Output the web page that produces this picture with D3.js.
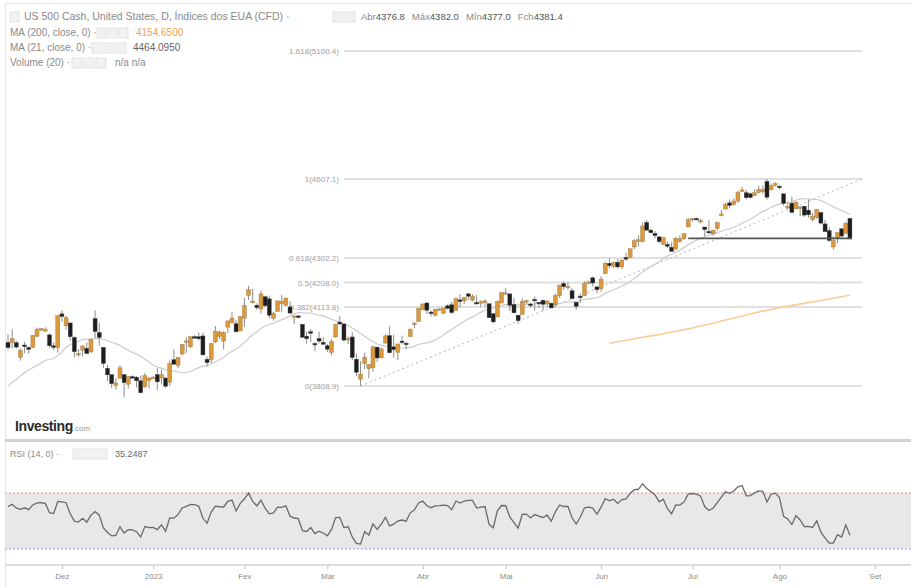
<!DOCTYPE html>
<html><head><meta charset="utf-8">
<script src="https://cdn.jsdelivr.net/npm/d3@7/dist/d3.min.js"></script>
<style>body{margin:0;background:#fff}svg{display:block;font-family:"Liberation Sans",Arial,sans-serif}</style>
</head><body><svg id="c" width="911" height="587"></svg>
<script>
// ---------- DATA ----------
const dates = [
"2022-11-14","2022-11-15","2022-11-16","2022-11-17","2022-11-18","2022-11-21","2022-11-22","2022-11-23","2022-11-24","2022-11-25","2022-11-28","2022-11-29","2022-11-30",
"2022-12-01","2022-12-02","2022-12-05","2022-12-06","2022-12-07","2022-12-08","2022-12-09","2022-12-12","2022-12-13","2022-12-14","2022-12-15","2022-12-16","2022-12-19","2022-12-20","2022-12-21","2022-12-22","2022-12-23","2022-12-26","2022-12-27","2022-12-28","2022-12-29","2022-12-30",
"2023-01-02","2023-01-03","2023-01-04","2023-01-05","2023-01-06","2023-01-09","2023-01-10","2023-01-11","2023-01-12","2023-01-13","2023-01-16","2023-01-17","2023-01-18","2023-01-19","2023-01-20","2023-01-23","2023-01-24","2023-01-25","2023-01-26","2023-01-27","2023-01-30","2023-01-31",
"2023-02-01","2023-02-02","2023-02-03","2023-02-06","2023-02-07","2023-02-08","2023-02-09","2023-02-10","2023-02-13","2023-02-14","2023-02-15","2023-02-16","2023-02-17","2023-02-20","2023-02-21","2023-02-22","2023-02-23","2023-02-24","2023-02-27","2023-02-28",
"2023-03-01","2023-03-02","2023-03-03","2023-03-06","2023-03-07","2023-03-08","2023-03-09","2023-03-10","2023-03-13","2023-03-14","2023-03-15","2023-03-16","2023-03-17","2023-03-20","2023-03-21","2023-03-22","2023-03-23","2023-03-24","2023-03-27","2023-03-28","2023-03-29","2023-03-30","2023-03-31",
"2023-04-03","2023-04-04","2023-04-05","2023-04-06","2023-04-07","2023-04-10","2023-04-11","2023-04-12","2023-04-13","2023-04-14","2023-04-17","2023-04-18","2023-04-19","2023-04-20","2023-04-21","2023-04-24","2023-04-25","2023-04-26","2023-04-27","2023-04-28",
"2023-05-01","2023-05-02","2023-05-03","2023-05-04","2023-05-05","2023-05-08","2023-05-09","2023-05-10","2023-05-11","2023-05-12","2023-05-15","2023-05-16","2023-05-17","2023-05-18","2023-05-19","2023-05-22","2023-05-23","2023-05-24","2023-05-25","2023-05-26","2023-05-29","2023-05-30","2023-05-31",
"2023-06-01","2023-06-02","2023-06-05","2023-06-06","2023-06-07","2023-06-08","2023-06-09","2023-06-12","2023-06-13","2023-06-14","2023-06-15","2023-06-16","2023-06-19","2023-06-20","2023-06-21","2023-06-22","2023-06-23","2023-06-26","2023-06-27","2023-06-28","2023-06-29","2023-06-30",
"2023-07-03","2023-07-04","2023-07-05","2023-07-06","2023-07-07","2023-07-10","2023-07-11","2023-07-12","2023-07-13","2023-07-14","2023-07-17","2023-07-18","2023-07-19","2023-07-20","2023-07-21","2023-07-24","2023-07-25","2023-07-26","2023-07-27","2023-07-28","2023-07-31",
"2023-08-01","2023-08-02","2023-08-03","2023-08-04","2023-08-07","2023-08-08","2023-08-09","2023-08-10","2023-08-11","2023-08-14","2023-08-15","2023-08-16","2023-08-17","2023-08-18","2023-08-21","2023-08-22","2023-08-23","2023-08-24"];
const futureDates = ["2023-08-25","2023-08-28","2023-08-29","2023-08-30","2023-08-31","2023-09-01","2023-09-04","2023-09-05","2023-09-06","2023-09-07","2023-09-08","2023-09-11","2023-09-12","2023-09-13"];

const opens = [
3977,3977,3976,3919,3967,3957,3958,4000,4028,4024,4006,3964,3957,
4087,4041,4052,3996,3934,3947,3954,3940,4069,4015,3958,3877,3853,3811,3839,3853,3816,3845,3843,3829,3806,3830,
3840,3853,3840,3840,3823,3910,3888,3932,3977,3960,3999,3999,4002,3912,3910,3979,4001,3982,4036,4053,4049,4021,
4070,4158,4136,4120,4106,4153,4145,4070,4096,4126,4120,4114,4077,4079,4047,4001,4018,3973,3992,3977,
3964,3938,3998,4055,4048,3987,3998,3912,3835,3895,3876,3879,3959,3917,3975,4003,3960,3939,3982,3974,3999,4046,4057,
4103,4129,4094,4082,4105,4090,4118,4122,4100,4141,4137,4164,4140,4131,4133,4133,4126,4088,4075,4129,
4166,4164,4123,4082,4084,4137,4125,4143,4132,4139,4127,4128,4122,4157,4204,4190,4176,4132,4155,4157,4205,4226,4191,
4184,4242,4282,4271,4286,4268,4304,4305,4345,4366,4366,4440,4410,4397,4384,4355,4355,4344,4337,4367,4377,4422,
4450,4455,4442,4422,4405,4395,4416,4468,4491,4515,4509,4522,4563,4554,4550,4543,4555,4558,4598,4565,4585,
4579,4550,4495,4514,4492,4498,4502,4487,4450,4458,4478,4434,4408,4345,4380,4415,4397,4455];
const highs = [
4008,4028,3983,3954,3979,3962,4005,4034,4033,4035,4012,3976,4080,
4101,4080,4052,4001,3951,3966,3977,3990,4100,4053,3958,3890,3854,3839,3889,3853,3846,3850,3847,3849,3859,3840,
3848,3878,3873,3840,3906,3950,3920,3970,3997,4003,4005,4015,4015,3923,3973,4040,4023,4020,4061,4095,4064,4078,
4148,4195,4183,4128,4176,4157,4157,4095,4139,4160,4148,4136,4081,4083,4047,4018,4028,3978,4018,3998,
3971,3990,4048,4079,4051,4000,4018,3934,3905,3938,3894,3965,3959,3956,4009,4039,4007,3972,4003,3979,4031,4057,4110,
4128,4133,4100,4108,4110,4110,4124,4134,4150,4163,4152,4169,4163,4160,4139,4142,4126,4089,4138,4170,
4186,4165,4148,4083,4147,4142,4131,4154,4132,4143,4141,4130,4165,4199,4213,4210,4186,4132,4166,4213,4215,4231,4195,
4232,4290,4300,4289,4299,4298,4322,4339,4375,4391,4439,4448,4415,4407,4387,4382,4366,4363,4384,4390,4398,4458,
4456,4458,4454,4422,4448,4412,4443,4488,4517,4528,4532,4563,4578,4565,4555,4567,4580,4582,4607,4590,4595,
4585,4551,4520,4540,4520,4503,4503,4528,4476,4490,4479,4449,4421,4386,4401,4418,4443,4458];
const lows = [
3949,3953,3954,3907,3935,3933,3956,3999,4022,4020,3956,3948,3938,
4057,4026,3984,3919,3923,3923,3933,3937,3994,3965,3879,3828,3800,3795,3839,3765,3800,3838,3803,3781,3801,3800,
3835,3794,3815,3802,3809,3890,3877,3928,3937,3955,3993,3984,3925,3885,3897,3974,3990,3950,4013,4049,4015,4021,
4037,4141,4127,4103,4088,4111,4070,4061,4096,4095,4114,4089,4048,4070,3995,3973,3978,3943,3973,3968,
3940,3928,3995,4044,3980,3970,3908,3846,3809,3874,3839,3864,3901,3917,3971,3936,3918,3909,3970,3951,3999,4032,4056,
4101,4086,4077,4077,4100,4085,4104,4086,4100,4113,4124,4140,4135,4123,4113,4115,4072,4050,4075,4128,
4164,4098,4090,4048,4084,4124,4111,4099,4109,4099,4113,4109,4113,4149,4180,4180,4142,4103,4129,4155,4203,4192,4167,
4172,4242,4262,4264,4261,4261,4291,4303,4337,4346,4362,4407,4398,4378,4360,4352,4341,4328,4335,4361,4372,4422,
4442,4450,4436,4385,4398,4389,4408,4463,4490,4494,4504,4515,4557,4528,4532,4542,4552,4548,4528,4564,4578,
4567,4505,4490,4475,4491,4464,4461,4458,4443,4453,4432,4404,4364,4335,4360,4382,4397,4376];
const closes = [
3957,3992,3959,3947,3965,3950,4004,4028,4030,4026,3964,3958,4080,
4077,4072,3999,3941,3934,3963,3934,3990,4019,3996,3896,3852,3818,3821,3879,3822,3845,3843,3829,3783,3849,3840,
3842,3825,3853,3808,3895,3893,3919,3970,3983,3999,3998,3991,3929,3899,3973,4020,4017,4016,4060,4071,4018,4077,
4119,4180,4136,4111,4164,4118,4082,4090,4137,4136,4148,4090,4079,4075,3997,3991,4012,3970,3982,3970,
3951,3981,4046,4048,3986,3992,3919,3862,3855,3920,3892,3960,3917,3952,4002,3937,3949,3971,3978,3971,4028,4051,4109,
4125,4101,4091,4105,4106,4110,4108,4092,4146,4138,4151,4155,4155,4130,4134,4137,4072,4056,4136,4169,
4168,4120,4091,4061,4136,4138,4119,4138,4131,4124,4136,4110,4158,4198,4192,4193,4146,4116,4151,4205,4210,4206,4180,
4221,4282,4273,4284,4268,4294,4299,4338,4369,4373,4426,4410,4400,4389,4366,4382,4348,4328,4378,4377,4396,4450,
4455,4453,4447,4412,4399,4410,4439,4472,4510,4505,4522,4555,4565,4535,4536,4554,4567,4566,4537,4582,4589,
4577,4513,4502,4478,4518,4499,4468,4469,4464,4490,4437,4404,4370,4370,4400,4387,4436,4376];
// closes before the visible window (needed for MA 21 and RSI 14)
const priorCloses = [3678,3791,3783,3745,3640,3612,3589,3577,3670,3583,3677,3720,3695,3666,3753,3797,3859,3831,3808,3901,3872,3856,3760,3720,3771,3807,3828,3749,3956,3993];

// MA 200
const ma200Dates = ["2023-06-05","2023-06-15","2023-06-26","2023-07-05","2023-07-14","2023-07-25","2023-08-03","2023-08-14","2023-08-24"];
const ma200Values = [3974,3997,4016,4040,4067,4094,4117,4136,4159];

// Fibonacci tool
const fibLow = 3808.9, fibHigh = 4607.1;
const fibRatios = [0, 0.382, 0.5, 0.618, 1, 1.618];
const fibRange = ["2023-03-07","2023-08-29"];
const trendDates = ["2023-03-13","2023-08-29"];
const trendPrices = [3808.9, 4607.1];
// horizontal support line
const supportDates = ["2023-06-30","2023-08-24"];
const supportPrice = 4378;

// header texts
const titleText = "US 500 Cash, United States, D, Índices dos EUA (CFD)  ·";
const ohlcLabels = ["Abr","Máx","Mín","Fch"];
const ohlcValues = ["4376.8","4382.0","4377.0","4381.4"];
const ma200Label = "4154.6500", ma21Label = "4464.0950", rsiLabel = "35.2487";

const tickLabels = ["Dez","2023","Fev","Mar","Abr","Mai","Jun","Jul","Ago","Set"];
const tickDates = ["2022-12-01","2023-01-02","2023-02-01","2023-03-01","2023-04-03","2023-05-01","2023-06-01","2023-07-03","2023-08-01","2023-09-01"];

const rsiBands = [30, 70];

// ---------- DRAW ----------
const svg = d3.select("#c");
const W = 911, H = 587;
const allDates = dates.concat(futureDates);
const x = d3.scalePoint().domain(allDates).range([8, 908]);
const y = d3.scaleLinear().domain([fibLow, fibHigh]).range([386, 179]);
const yR = d3.scaleLinear().domain(rsiBands).range([549, 493]);

// frame
svg.append("rect").attr("x",5.5).attr("y",3.5).attr("width",W).attr("height",H).attr("fill","none").attr("stroke","#e6e6e6");

// header
const hdr = svg.append("g").attr("font-size",10).attr("fill","#8a8a8a");
function boxes(g, x0, yy, n, w){ for(let i=0;i<n;i++) g.append("rect").attr("x",x0+i*(w+2)).attr("y",yy-8).attr("width",w).attr("height",10).attr("fill","#f2f2f2").attr("stroke","#dcdcdc").attr("stroke-width",0.8); }
boxes(hdr, 10, 20, 1, 9);
hdr.append("text").attr("x",24).attr("y",20).attr("font-size",10.5).text(titleText);
boxes(hdr, 333, 20, 2, 10);
let ox = 361;
ohlcLabels.forEach((l,i)=>{
  const tx=hdr.append("text").attr("x",ox).attr("y",20).attr("font-size",9.5);
  tx.append("tspan").text(l); tx.append("tspan").attr("fill","#555").text(ohlcValues[i]);
  ox += tx.node().getComputedTextLength() + 7;
});
hdr.append("text").attr("x",10).attr("y",36).text("MA (200, close, 0)  ·");
boxes(hdr, 97, 36, 3, 9);
hdr.append("text").attr("x",136).attr("y",36).attr("fill","#f2a34a").text(ma200Label);
hdr.append("text").attr("x",10).attr("y",51).text("MA (21, close, 0)  ·");
boxes(hdr, 92, 51, 3, 10);
hdr.append("text").attr("x",133).attr("y",51).attr("fill","#666").text(ma21Label);
hdr.append("text").attr("x",10).attr("y",66).text("Volume (20)  ·");
boxes(hdr, 72, 66, 3, 10);
hdr.append("text").attr("x",115).attr("y",66).text("n/a  n/a");

// fibonacci levels
const fibG = svg.append("g");
fibRatios.forEach(r=>{
  const p = fibLow + r*(fibHigh-fibLow);
  fibG.append("line").attr("x1",x(fibRange[0])).attr("x2",x(fibRange[1])).attr("y1",y(p)).attr("y2",y(p)).attr("stroke","#e0e0e0").attr("stroke-width",2);
  fibG.append("text").attr("x",x(fibRange[0])-5).attr("y",y(p)+3).attr("text-anchor","end").attr("font-size",8).attr("fill","#a0a0a0").text(`${r}(${p.toFixed(1)})`);
});

// MA 21 (computed from closes)
const allC = priorCloses.concat(closes);
const ma21 = closes.map((c,i)=>{ const j=i+priorCloses.length; return d3.mean(allC.slice(j-20,j+1)); });
svg.append("path").datum(ma21).attr("fill","none").attr("stroke","#c8c8c8").attr("stroke-width",1.1)
  .attr("d", d3.line().x((d,i)=>x(dates[i])).y(d=>y(d)));

// trend line (dotted)
svg.append("line").attr("x1",x(trendDates[0])).attr("y1",y(trendPrices[0])).attr("x2",x(trendDates[1])).attr("y2",y(trendPrices[1]))
  .attr("stroke","#c4c4c4").attr("stroke-width",1.2).attr("stroke-dasharray","2,3");

// MA 200
svg.append("path").datum(ma200Dates.map((d,i)=>[d,ma200Values[i]])).attr("fill","none").attr("stroke","#f8cd98").attr("stroke-width",1.6)
  .attr("d", d3.line().curve(d3.curveMonotoneX).x(d=>x(d[0])).y(d=>y(d[1])));

// candles
const bars = dates.map((d,i)=>({d,o:opens[i],h:highs[i],l:lows[i],c:closes[i]}));
const cg = svg.append("g");
cg.selectAll("line").data(bars).join("line")
  .attr("x1",d=>x(d.d)).attr("x2",d=>x(d.d)).attr("y1",d=>y(d.h)).attr("y2",d=>y(d.l))
  .attr("stroke","#8c8c8c").attr("stroke-width",1);
cg.selectAll("rect").data(bars).join("rect")
  .attr("x",d=>x(d.d)-2).attr("width",4)
  .attr("y",d=>y(Math.max(d.o,d.c))).attr("height",d=>Math.max(1.5,Math.abs(y(d.o)-y(d.c))))
  .attr("fill",d=>d.c>=d.o?"#dc983c":"#1e1e1e")
  .attr("stroke",d=>d.c>=d.o?"#9a7a50":"#444").attr("stroke-width",0.4);

// support line
svg.append("line").attr("x1",x(supportDates[0])).attr("x2",x(supportDates[1])+2).attr("y1",y(supportPrice)).attr("y2",y(supportPrice))
  .attr("stroke","#555").attr("stroke-width",1.6);

// logo
const logo = svg.append("text").attr("x",15).attr("y",431);
logo.append("tspan").attr("font-size",14).attr("font-weight","bold").attr("fill","#2b2b2b").attr("letter-spacing","-0.4").text("Investing");
logo.append("tspan").attr("font-size",8).attr("fill","#9a9a9a").text(".com");

// separator
svg.append("rect").attr("x",5).attr("y",439).attr("width",W).attr("height",3).attr("fill","#d2d2d2");

// RSI panel
svg.append("rect").attr("x",5).attr("y",yR(70)).attr("width",W).attr("height",yR(30)-yR(70)).attr("fill","#e8e8e8");
svg.append("line").attr("x1",5).attr("x2",W).attr("y1",yR(70)).attr("y2",yR(70)).attr("stroke","#ef8a8a").attr("stroke-width",1.2).attr("stroke-dasharray","2,2");
svg.append("line").attr("x1",5).attr("x2",W).attr("y1",yR(30)).attr("y2",yR(30)).attr("stroke","#9a9aee").attr("stroke-width",1.2).attr("stroke-dasharray","2,2");

// RSI 14 (Wilder) computed from closes
let ag=0, al=0;
for(let i=1;i<=14;i++){ const ch=allC[i]-allC[i-1]; if(ch>0) ag+=ch; else al-=ch; }
ag/=14; al/=14;
const rsi=[];
for(let i=15;i<allC.length;i++){
  const ch=allC[i]-allC[i-1];
  ag=(ag*13+Math.max(ch,0))/14; al=(al*13+Math.max(-ch,0))/14;
  if(i>=priorCloses.length) rsi.push(100-100/(1+ag/al));
}
svg.append("path").datum(rsi).attr("fill","none").attr("stroke","#6a6a6a").attr("stroke-width",1.3)
  .attr("d", d3.line().x((d,i)=>x(dates[i])).y(d=>yR(d)));

const rh = svg.append("g").attr("font-size",9).attr("fill","#8a8a8a");
rh.append("text").attr("x",10).attr("y",457).text("RSI (14, 0)  ·");
boxes(rh, 73, 457, 1, 34);
rh.append("text").attr("x",115).attr("y",457).attr("fill","#666").text(rsiLabel);

// bottom axis
svg.append("rect").attr("x",5).attr("y",564).attr("width",W).attr("height",2).attr("fill","#dcdcdc");
const ax = svg.append("g").attr("transform","translate(0,566)")
  .call(d3.axisBottom(x).tickValues(tickDates).tickSize(3).tickFormat((d,i)=>tickLabels[i]));
ax.select(".domain").remove();
ax.selectAll("line").attr("stroke","#bbb");
ax.selectAll("text").attr("fill","#8a8a8a").attr("font-size",8).attr("dy","0.9em");
</script></body></html>
